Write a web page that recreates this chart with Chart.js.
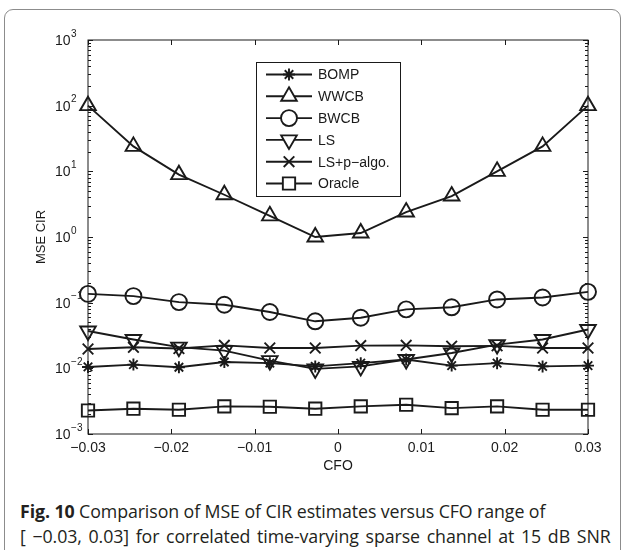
<!DOCTYPE html>
<html>
<head>
<meta charset="utf-8">
<script src="https://cdn.jsdelivr.net/npm/chart.js@4.4.1/dist/chart.umd.min.js"></script>
<style>
  html, body { margin: 0; padding: 0; background: #fff; }
  body { width: 625px; height: 550px; position: relative; overflow: hidden; }
  #frame {
    position: absolute; left: 4px; top: 9px; width: 617px; height: 600px;
    border: 1.5px solid #8c8c8c; border-radius: 9px; box-sizing: border-box;
  }
  #wrap { position: absolute; left: 0; top: 0; width: 625px; height: 480px; }
  #caption {
    position: absolute; left: 20px; top: 499px; width: 600px;
    font-family: "Open Sans", "Noto Sans", sans-serif; font-size: 17.8px;
    line-height: 25px; color: #231f20; white-space: nowrap; letter-spacing: -0.1px;
  }
  #caption b { font-weight: 700; }
  #caption .l2 { word-spacing: 2.2px; }
</style>
</head>
<body>
<div id="frame"></div>
<div id="wrap"><canvas id="chart" width="625" height="480"></canvas></div>
<div id="caption"><b>Fig. 10</b> Comparison of MSE of CIR estimates versus CFO range of<br><span class="l2">[ −0.03, 0.03] for correlated time-varying sparse channel at 15 dB SNR</span></div>

<script>
// --- dados ---
const cfo = [-0.03, -0.02455, -0.01909, -0.01364, -0.00818, -0.00273,
             0.00273, 0.00818, 0.01364, 0.01909, 0.02455, 0.03];

const bomp   = [0.0105, 0.0114, 0.0104, 0.0125, 0.0120, 0.0107, 0.0120, 0.0136, 0.0110, 0.0120, 0.0107, 0.0110];
const wwcb   = [100, 24, 8.9, 4.4, 2.1, 1.0, 1.15, 2.4, 4.2, 10, 24, 100];
const bwcb   = [0.136, 0.126, 0.102, 0.093, 0.072, 0.052, 0.059, 0.079, 0.085, 0.112, 0.120, 0.146];
const ls     = [0.037, 0.0275, 0.021, 0.0186, 0.0131, 0.0098, 0.0107, 0.0136, 0.0171, 0.023, 0.0275, 0.039];
const lsAlgo = [0.0197, 0.0209, 0.0200, 0.0224, 0.0204, 0.0204, 0.0222, 0.0224, 0.0217, 0.0220, 0.0204, 0.0204];
const oracle = [0.00228, 0.00243, 0.00234, 0.00263, 0.00260, 0.00243, 0.00263, 0.00279, 0.00248, 0.00263, 0.00234, 0.00234];

const seriesNames = ["BOMP", "WWCB", "BWCB", "LS", "LS+p\u2212algo.", "Oracle"];
const xTicks = [-0.03, -0.02, -0.01, 0, 0.01, 0.02, 0.03];
const xTickLabels = ["\u22120.03", "\u22120.02", "\u22120.01", "0", "0.01", "0.02", "0.03"];
const yExponents = [-3, -2, -1, 0, 1, 2, 3];
const yExponentLabels = ["\u22123", "\u22122", "\u22121", "0", "1", "2", "3"];

const INK = "#1a1a1a";
const TICK_FONT = '14px "Liberation Sans", Arial, sans-serif';

// estilo de marcador por série
const markers = [
  { style: "star", radius: 6 },
  { style: "triangle", radius: 9, rotation: 0 },
  { style: "circle", radius: 8 },
  { style: "triangle", radius: 9, rotation: 180 },
  { style: "crossRot", radius: 7.5 },
  { style: "rect", radius: 8.7 },
];

const allData = [bomp, wwcb, bwcb, ls, lsAlgo, oracle];

const datasets = allData.map((vals, i) => ({
  label: seriesNames[i],
  data: vals.map((v, j) => ({ x: cfo[j], y: v })),
  borderColor: INK,
  borderWidth: 1.9,
  pointStyle: markers[i].style,
  pointRadius: markers[i].radius,
  pointRotation: markers[i].rotation || 0,
  pointBorderColor: INK,
  pointBackgroundColor: "rgba(0,0,0,0)",
  pointBorderWidth: 1.9,
  tension: 0,
  clip: false,
}));

// caixa dos eixos, ticks internos e rótulos (estilo MATLAB)
const axesPlugin = {
  id: "axesPlugin",
  afterDatasetsDraw(chart) {
    const ctx = chart.ctx;
    const a = chart.chartArea;
    const xs = chart.scales.x;
    const ys = chart.scales.y;
    ctx.save();
    ctx.strokeStyle = INK;
    ctx.lineWidth = 1;
    ctx.strokeRect(a.left, a.top, a.right - a.left, a.bottom - a.top);

    // ticks do eixo x
    ctx.beginPath();
    xTicks.forEach((t) => {
      const px = Math.round(xs.getPixelForValue(t)) + 0.5;
      ctx.moveTo(px, a.bottom); ctx.lineTo(px, a.bottom - 5);
      ctx.moveTo(px, a.top); ctx.lineTo(px, a.top + 5);
    });
    // ticks do eixo y (maiores e menores)
    yExponents.forEach((e) => {
      const base = Math.pow(10, e);
      const py = Math.round(ys.getPixelForValue(base)) + 0.5;
      ctx.moveTo(a.left, py); ctx.lineTo(a.left + 5, py);
      ctx.moveTo(a.right, py); ctx.lineTo(a.right - 5, py);
      if (e < 3) {
        for (let m = 2; m <= 9; m++) {
          const my = Math.round(ys.getPixelForValue(base * m)) + 0.5;
          ctx.moveTo(a.left, my); ctx.lineTo(a.left + 3, my);
          ctx.moveTo(a.right, my); ctx.lineTo(a.right - 3, my);
        }
      }
    });
    ctx.stroke();

    // rótulos x
    ctx.fillStyle = INK;
    ctx.font = TICK_FONT;
    ctx.textAlign = "center";
    ctx.textBaseline = "middle";
    xTicks.forEach((t, i) => {
      ctx.fillText(xTickLabels[i], xs.getPixelForValue(t), a.bottom + 14);
    });
    ctx.fillText("CFO", (a.left + a.right) / 2, a.bottom + 32);

    // rótulos y: 10 com expoente
    yExponents.forEach((e, i) => {
      const py = ys.getPixelForValue(Math.pow(10, e));
      ctx.font = TICK_FONT;
      ctx.textAlign = "left";
      ctx.textBaseline = "middle";
      ctx.fillText("10", 55, py + 1);
      const w = ctx.measureText("10").width;
      ctx.font = '10px "Liberation Sans", Arial, sans-serif';
      ctx.fillText(yExponentLabels[i], 55 + w + 0.5, py - 6);
    });

    // título y
    ctx.save();
    ctx.translate(41, (a.top + a.bottom) / 2);
    ctx.rotate(-Math.PI / 2);
    ctx.font = '13px "Liberation Sans", Arial, sans-serif';
    ctx.textAlign = "center";
    ctx.textBaseline = "middle";
    ctx.fillText("MSE CIR", 0, 0);
    ctx.restore();
    ctx.restore();
  },
  afterDraw(chart) {
    // legenda dentro da área do gráfico
    const ctx = chart.ctx;
    const box = { left: 256, top: 62, width: 144, height: 134 };
    ctx.save();
    ctx.fillStyle = "#fff";
    ctx.fillRect(box.left, box.top, box.width, box.height);
    ctx.strokeStyle = INK;
    ctx.lineWidth = 1;
    ctx.strokeRect(box.left + 0.5, box.top + 0.5, box.width, box.height);
    chart.data.datasets.forEach((ds, i) => {
      const y = box.top + 12.5 + i * 21.8;
      ctx.strokeStyle = INK;
      ctx.lineWidth = 1.9;
      ctx.beginPath();
      ctx.moveTo(266, y); ctx.lineTo(312, y);
      ctx.stroke();
      ctx.fillStyle = "#fff";
      ctx.strokeStyle = INK;
      Chart.helpers.drawPoint(ctx, {
        pointStyle: ds.pointStyle,
        radius: ds.pointRadius,
        rotation: ds.pointRotation,
        borderWidth: ds.pointBorderWidth,
      }, 289, y);
      ctx.fillStyle = INK;
      ctx.font = TICK_FONT;
      ctx.textAlign = "left";
      ctx.textBaseline = "middle";
      ctx.fillText(ds.label, 318, y + 1);
    });
    ctx.restore();
  },
};

new Chart(document.getElementById("chart"), {
  type: "line",
  data: { datasets },
  options: {
    responsive: false,
    animation: false,
    devicePixelRatio: 1,
    layout: { padding: { left: 88, right: 37, top: 40, bottom: 46 } },
    scales: {
      x: { type: "linear", min: -0.03, max: 0.03, display: false },
      y: { type: "logarithmic", min: 1e-3, max: 1e3, display: false },
    },
    plugins: { legend: { display: false }, tooltip: { enabled: false } },
  },
  plugins: [axesPlugin],
});
</script>
</body>
</html>
